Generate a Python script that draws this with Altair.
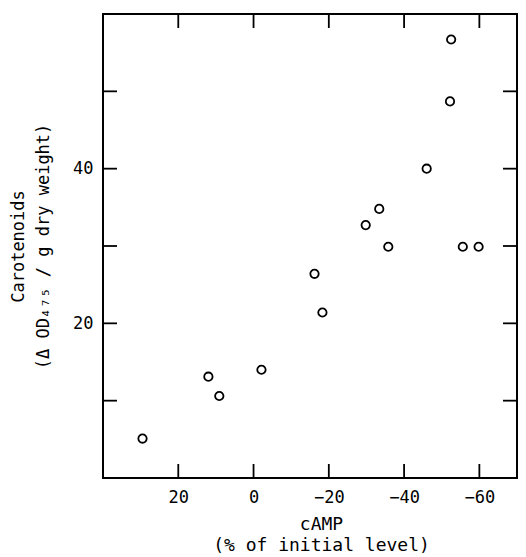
import altair as alt
import pandas as pd

# data
camp = [29.5, 12.0, 9.1, -2.1, -16.2, -18.3, -29.8, -33.4, -35.8, -46.0, -52.2, -52.5, -55.6, -59.8]
carot = [5.1, 13.1, 10.6, 14.0, 26.4, 21.4, 32.7, 34.8, 29.9, 40.0, 48.7, 56.7, 29.9, 29.9]
x_ticks = [20, 0, -20, -40, -60]
y_ticks = [10, 20, 30, 40, 50]
y_labels = [20, 40]

W, H = 414, 464
TL = 14
FONT = "DejaVu Sans Mono"

pts = pd.DataFrame({"camp": camp, "carot": carot})
xt = pd.DataFrame({"camp": x_ticks})
yt = pd.DataFrame({"carot": y_ticks})

xs = alt.Scale(domain=[40, -70], nice=False, zero=False)
ys = alt.Scale(domain=[0, 60], nice=False, zero=False)

x_axis = alt.Axis(
    values=x_ticks, title=["cAMP", "(% of initial level)"], grid=False, domain=False,
    ticks=False, labelFont=FONT, labelFontSize=17, labelColor="black", labelPadding=11,
    titleFont=FONT, titleFontSize=18, titleFontWeight="normal", titleColor="black",
    titlePadding=10, titleLineHeight=21, titleX=218)
y_axis = alt.Axis(
    values=y_labels, title=["Carotenoids", "(Δ OD₄₇₅ / g dry weight)"], grid=False,
    domain=False, ticks=False, labelFont=FONT, labelFontSize=17, labelColor="black",
    labelPadding=10, titleFont=FONT, titleFontSize=17, titleFontWeight="normal",
    titleColor="black", titlePadding=20, titleLineHeight=25)

points = alt.Chart(pts).mark_point(
    shape="circle", filled=False, stroke="black", strokeWidth=1.8, size=70, opacity=1
).encode(
    x=alt.X("camp:Q", scale=xs, axis=x_axis),
    y=alt.Y("carot:Q", scale=ys, axis=y_axis),
)

rule_style = dict(color="black", strokeWidth=1.8)

xb = alt.Chart(xt).mark_rule(**rule_style).encode(
    x=alt.X("camp:Q", scale=xs, axis=x_axis), y=alt.value(H), y2=alt.value(H - TL))
xtop = alt.Chart(xt).mark_rule(**rule_style).encode(
    x=alt.X("camp:Q", scale=xs, axis=x_axis), y=alt.value(0), y2=alt.value(TL))
yl = alt.Chart(yt).mark_rule(**rule_style).encode(
    y=alt.Y("carot:Q", scale=ys, axis=y_axis), x=alt.value(0), x2=alt.value(TL))
yr = alt.Chart(yt).mark_rule(**rule_style).encode(
    y=alt.Y("carot:Q", scale=ys, axis=y_axis), x=alt.value(W - TL), x2=alt.value(W))

chart = alt.layer(points, xb, xtop, yl, yr).properties(
    width=W, height=H,
    autosize=alt.AutoSizeParams(type="none"),
    padding={"left": 95, "top": 6, "right": 1, "bottom": 78},
).configure_view(stroke="black", strokeWidth=2)

chart.save("out.html", embed_options={"renderer": "svg", "actions": False})
